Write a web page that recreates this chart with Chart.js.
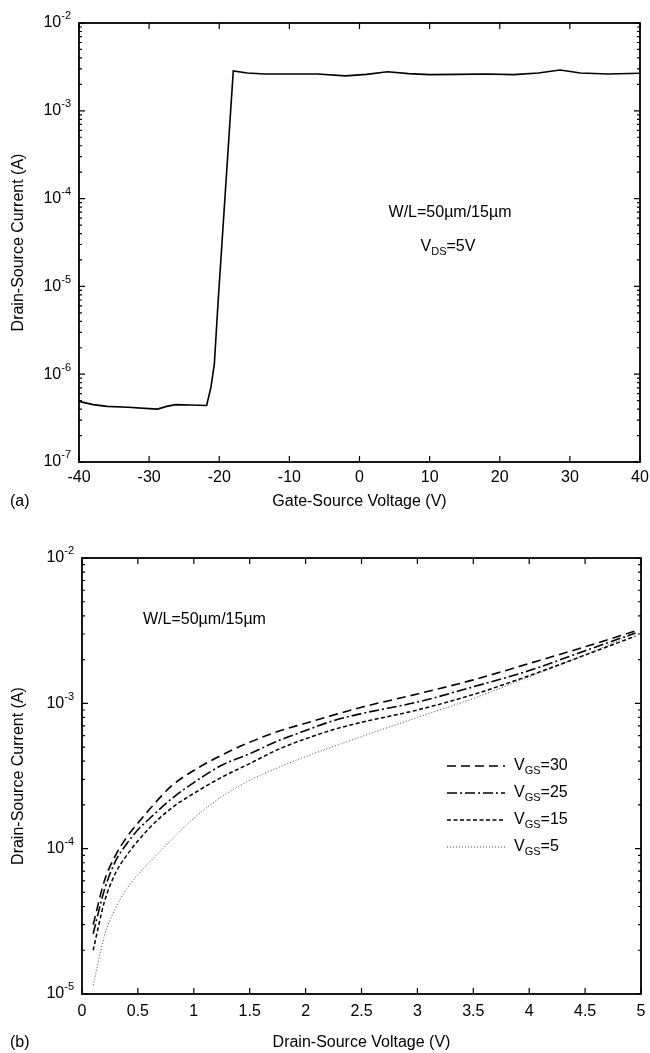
<!DOCTYPE html>
<html lang="en">
<head>
<meta charset="UTF-8">
<title>TFT transfer and output characteristics</title>
<script src="https://cdn.jsdelivr.net/npm/chart.js"></script>
<style>
  body { margin: 0; background: #fff; }
  .panel { position: absolute; left: 0; }
  #panelA { top: 0; }
  #panelB { top: 525px; }
</style>
</head>
<body>

<div class="panel" id="panelA"><canvas id="chartA" width="650" height="525"></canvas></div>
<div class="panel" id="panelB"><canvas id="chartB" width="650" height="528"></canvas></div>

<script>
// (a) transfer curve, V_DS = 5 V
const gateVoltage = [-40, -38, -36, -33, -30, -28.8, -27.5, -26.2, -24, -21.8, -21.2, -20.7, -20.2, -18,
  -16, -13.5, -10, -6, -2, 1, 4, 7, 10, 14, 18, 22, 25.5, 28.6, 31.5, 35.5, 40];
const drainCurrentA = [4.9e-7, 4.5e-7, 4.3e-7, 4.2e-7, 4.05e-7, 4.0e-7, 4.3e-7, 4.5e-7, 4.45e-7, 4.4e-7, 7e-7, 1.3e-6, 6e-6, 2.85e-3,
  2.7e-3, 2.63e-3, 2.62e-3, 2.63e-3, 2.5e-3, 2.6e-3, 2.78e-3, 2.65e-3, 2.58e-3, 2.6e-3, 2.62e-3, 2.58e-3, 2.7e-3, 2.92e-3, 2.7e-3, 2.62e-3, 2.68e-3];

// (b) output curves
const drainVoltage = [0.1, 0.2, 0.3, 0.4, 0.5, 0.6, 0.8, 1.0, 1.25, 1.5, 1.75, 2.0, 2.25, 2.5, 3.0, 3.5, 4.0, 4.5, 4.95];
const idVgs30 = [3.0e-5, 6.0e-5, 9.0e-5, 1.2e-4, 1.5e-4, 1.85e-4, 2.7e-4, 3.45e-4, 4.4e-4, 5.4e-4, 6.4e-4, 7.3e-4, 8.3e-4, 9.4e-4, 1.16e-3, 1.45e-3, 1.88e-3, 2.45e-3, 3.15e-3];
const idVgs25 = [2.6e-5, 5.2e-5, 8.2e-5, 1.08e-4, 1.35e-4, 1.6e-4, 2.2e-4, 2.85e-4, 3.75e-4, 4.5e-4, 5.5e-4, 6.5e-4, 7.6e-4, 8.5e-4, 1.02e-3, 1.3e-3, 1.68e-3, 2.3e-3, 3.05e-3];
const idVgs15 = [2.0e-5, 4.3e-5, 6.8e-5, 9.0e-5, 1.13e-4, 1.38e-4, 1.9e-4, 2.4e-4, 3.1e-4, 3.85e-4, 4.8e-4, 5.7e-4, 6.6e-4, 7.4e-4, 9.0e-4, 1.15e-3, 1.55e-3, 2.15e-3, 2.9e-3];
const idVgs5 = [1.15e-5, 2.5e-5, 3.9e-5, 5.3e-5, 6.6e-5, 8.0e-5, 1.15e-4, 1.62e-4, 2.28e-4, 2.95e-4, 3.6e-4, 4.3e-4, 5.05e-4, 5.9e-4, 8.0e-4, 1.08e-3, 1.52e-3, 2.15e-3, 3.05e-3];
const vgsNames = ['30', '25', '15', '5'];

const FONT = "'Liberation Sans', Arial, sans-serif";
Chart.defaults.font.family = FONT;
Chart.defaults.font.size = 16;
Chart.defaults.color = '#000';

// text with a subscript (or superscript) part, left aligned at x
function subText(ctx, x, y, parts, size) {
  let cx = x;
  parts.forEach(p => {
    const s = p.sub || p.sup ? Math.round(size * 0.68) : size;
    const dy = p.sub ? size * 0.32 : p.sup ? -size * 0.42 : 0;
    ctx.font = s + 'px ' + FONT;
    ctx.fillText(p.t, cx, y + dy);
    cx += ctx.measureText(p.t).width;
  });
  return cx - x;
}
function subWidth(ctx, parts, size) {
  let w = 0;
  parts.forEach(p => {
    ctx.font = (p.sub || p.sup ? Math.round(size * 0.68) : size) + 'px ' + FONT;
    w += ctx.measureText(p.t).width;
  });
  return w;
}

// frame, inward ticks, tick labels, titles and notes
function paperFrame(cfg) {
  return {
    id: 'paperFrame',
    afterDraw(chart) {
      const ctx = chart.ctx, a = chart.chartArea;
      const xs = chart.scales.x, ys = chart.scales.y;
      ctx.save();
      ctx.strokeStyle = '#000';
      ctx.fillStyle = '#000';
      ctx.lineWidth = 1.8;
      ctx.strokeRect(a.left, a.top, a.right - a.left, a.bottom - a.top);

      ctx.lineWidth = 1.2;
      ctx.beginPath();
      xs.ticks.forEach(t => {
        const px = xs.getPixelForValue(t.value);
        ctx.moveTo(px, a.bottom); ctx.lineTo(px, a.bottom - 6);
        ctx.moveTo(px, a.top); ctx.lineTo(px, a.top + 6);
      });
      const e0 = Math.round(Math.log10(ys.min)), e1 = Math.round(Math.log10(ys.max));
      for (let e = e0; e <= e1; e++) {
        for (let m = 1; m <= 9; m++) {
          if (e === e1 && m > 1) break;
          const py = ys.getPixelForValue(m * Math.pow(10, e));
          const len = m === 1 ? 6 : 3;
          ctx.moveTo(a.left, py); ctx.lineTo(a.left + len, py);
          ctx.moveTo(a.right, py); ctx.lineTo(a.right - len, py);
        }
      }
      ctx.stroke();

      // x tick labels
      ctx.font = '16px ' + FONT;
      ctx.textBaseline = 'middle';
      ctx.textAlign = 'center';
      xs.ticks.forEach(t => {
        ctx.fillText(String(Math.round(t.value * 10) / 10), xs.getPixelForValue(t.value), a.bottom + cfg.xLabelGap);
      });

      // decade labels 10^n
      ctx.textAlign = 'left';
      for (let e = e0; e <= e1; e++) {
        const py = ys.getPixelForValue(Math.pow(10, e));
        const parts = [{t: '10'}, {t: '-' + Math.abs(e), sup: true}];
        const w = subWidth(ctx, parts, 16);
        subText(ctx, a.left - 8 - w, py, parts, 16);
      }

      // axis titles
      ctx.font = '16px ' + FONT;
      ctx.textAlign = 'center';
      ctx.fillText(cfg.xTitle, (a.left + a.right) / 2, cfg.xTitleY);
      ctx.save();
      ctx.translate(19, (a.top + a.bottom) / 2);
      ctx.rotate(-Math.PI / 2);
      ctx.fillText('Drain-Source Current (A)', 0, 0);
      ctx.restore();
      ctx.textAlign = 'left';
      ctx.fillText(cfg.tag, 10, cfg.xTitleY);

      // notes inside the plot
      cfg.notes.forEach(n => {
        const w = subWidth(ctx, n.parts, 16);
        const x0 = n.align === 'center' ? n.x - w / 2 : n.x;
        ctx.textAlign = 'left';
        subText(ctx, x0, n.y, n.parts, 16);
      });

      // hand-made legend
      if (cfg.legend) {
        cfg.legend.forEach((it, i) => {
          const ly = cfg.legendY + i * 27;
          const ds = chart.data.datasets[i];
          ctx.save();
          ctx.strokeStyle = ds.borderColor;
          ctx.lineWidth = ds.borderWidth;
          ctx.setLineDash(ds.borderDash);
          ctx.beginPath();
          ctx.moveTo(447, ly); ctx.lineTo(505, ly);
          ctx.stroke();
          ctx.restore();
          ctx.textAlign = 'left';
          subText(ctx, 514, ly, [{t: 'V'}, {t: 'GS', sub: true}, {t: '=' + it}], 16);
        });
      }
      ctx.restore();
    }
  };
}

function yLog(min, max, width) {
  return {
    type: 'logarithmic', min: min, max: max,
    ticks: { display: false },
    grid: { display: false, drawTicks: false },
    border: { display: false },
    afterFit: s => { s.width = width; }
  };
}
function xLin(min, max, step, height) {
  return {
    type: 'linear', min: min, max: max,
    ticks: { stepSize: step, display: false },
    grid: { display: false, drawTicks: false },
    border: { display: false },
    afterFit: s => { s.height = height; }
  };
}

const baseOpts = {
  responsive: false,
  animation: false,
  devicePixelRatio: 1,
  plugins: { legend: { display: false }, tooltip: { enabled: false } },
  elements: { point: { radius: 0 } }
};

// Chart (a)
new Chart(document.getElementById('chartA'), {
  type: 'line',
  data: {
    datasets: [{
      data: gateVoltage.map((v, i) => ({x: v, y: drainCurrentA[i]})),
      borderColor: '#000', borderWidth: 1.6, tension: 0
    }]
  },
  options: Object.assign({}, baseOpts, {
    layout: { padding: { top: 23, right: 10, left: 0, bottom: 0 } },
    scales: { x: xLin(-40, 40, 10, 63), y: yLog(1e-7, 1e-2, 79) }
  }),
  plugins: [paperFrame({
    xTitle: 'Gate-Source Voltage (V)', xTitleY: 502, tag: '(a)', xLabelGap: 16,
    notes: [
      { x: 450, y: 213, align: 'center', parts: [{t: 'W/L=50µm/15µm'}] },
      { x: 448, y: 247, align: 'center', parts: [{t: 'V'}, {t: 'DS', sub: true}, {t: '=5V'}] }
    ]
  })]
});

// Chart (b)
const seriesB = [idVgs30, idVgs25, idVgs15, idVgs5];
const dashes = [[9, 5], [10, 3, 2, 3], [4, 2.5], [1, 2]];
const colors = ['#000', '#000', '#000', '#444'];
const widths = [1.6, 1.6, 1.5, 1];
new Chart(document.getElementById('chartB'), {
  type: 'line',
  data: {
    datasets: seriesB.map((s, k) => ({
      label: 'VGS=' + vgsNames[k],
      data: drainVoltage.map((v, i) => ({x: v, y: s[i]})),
      borderColor: colors[k], borderWidth: widths[k], borderDash: dashes[k],
      cubicInterpolationMode: 'monotone'
    }))
  },
  options: Object.assign({}, baseOpts, {
    layout: { padding: { top: 33, right: 9, left: 0, bottom: 0 } },
    scales: { x: xLin(0, 5, 0.5, 59), y: yLog(1e-5, 1e-2, 82) }
  }),
  plugins: [paperFrame({
    xTitle: 'Drain-Source Voltage (V)', xTitleY: 518, tag: '(b)', xLabelGap: 18,
    notes: [
      { x: 143, y: 95, align: 'left', parts: [{t: 'W/L=50µm/15µm'}] }
    ],
    legend: vgsNames, legendY: 241
  })]
});
</script>

</body>
</html>
